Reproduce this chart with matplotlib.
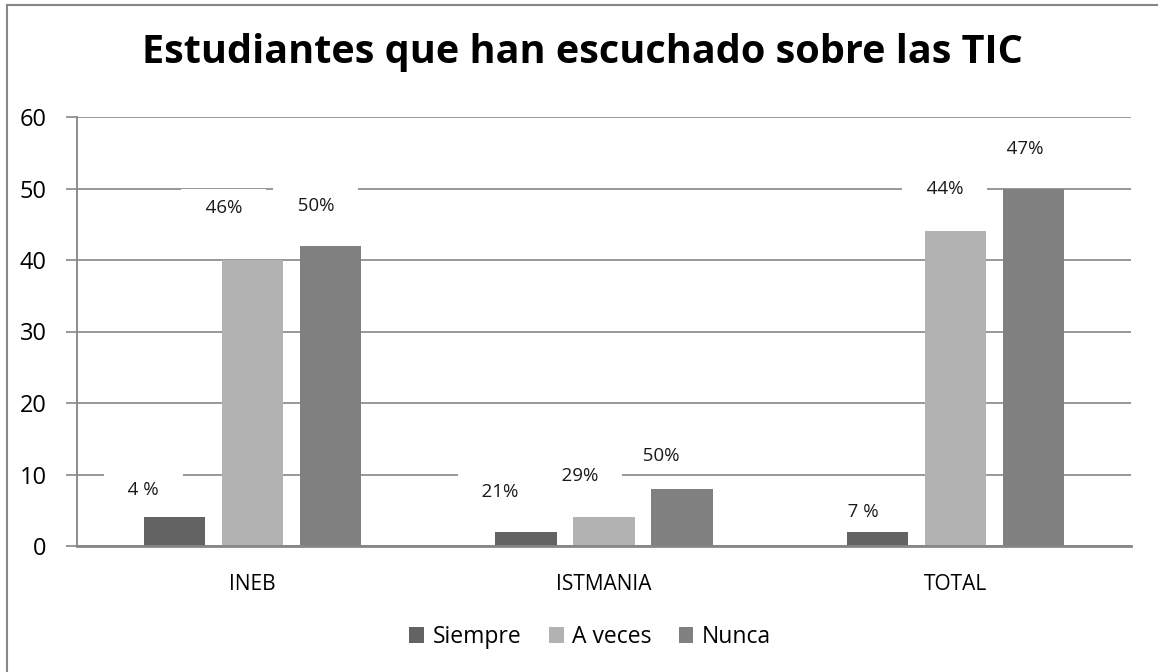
import matplotlib
matplotlib.use("Agg")
import matplotlib.pyplot as plt
from matplotlib.patches import Patch
from matplotlib.lines import Line2D
import numpy as np

# ---- data ----
categories = ["INEB", "ISTMANIA", "TOTAL"]
series_names = ["Siempre", "A veces", "Nunca"]
siempre = [4, 2, 2]
a_veces = [40, 4, 44]
nunca = [42, 8, 50]
label_texts = [
    ["4 %", "46%", "50%"],
    ["21%", "29%", "50%"],
    ["7 %", "44%", "47%"],
]
y_ticks = [0, 10, 20, 30, 40, 50, 60]
title = "Estudiantes que han escuchado sobre las TIC"

# label placement (category offset from bar centre, y in data units)
label_dx = [
    [-0.09, -0.082, -0.042],
    [-0.074, -0.068, -0.06],
    [-0.04, -0.03, -0.023],
]
label_y = [
    [7.8, 47.3, 47.6],
    [7.55, 9.8, 12.6],
    [4.75, 49.9, 55.5],
]

colors = ["#636363", "#b2b2b2", "#808080"]
grid_color = "#868686"

plt.rcParams["font.family"] = ["Open Sans", "DejaVu Sans"]

fig = plt.figure(figsize=(11.58, 6.72), dpi=100)
fig.patch.set_facecolor("white")
ax = fig.add_axes([77 / 1158, 1 - 546 / 672, (1131 - 77) / 1158, (546 - 117) / 672])

x = np.arange(len(categories))
step = 0.222
width = 0.174
all_series = [siempre, a_veces, nunca]
for j, (vals, name, c) in enumerate(zip(all_series, series_names, colors)):
    ax.bar(x + (j - 1) * step, vals, width=width, color=c, label=name, zorder=2)

for i in range(len(categories)):
    for j in range(3):
        ax.text(x[i] + (j - 1) * step + label_dx[i][j], label_y[i][j],
                "   " + label_texts[i][j] + "   ",
                ha="center", va="center", fontsize=13.5, color="#1a1a1a", zorder=1.5,
                bbox=dict(facecolor="white", edgecolor="none", boxstyle="square,pad=0.5"))

ax.set_xlim(-0.5, 2.5)
ax.set_ylim(0, 60)
ax.set_yticks(y_ticks)
ax.set_xticks(x)
ax.set_xticklabels(categories)
ax.yaxis.grid(True, color=grid_color, linewidth=1.2)
ax.set_axisbelow(True)
for s in ["top", "right"]:
    ax.spines[s].set_visible(False)
ax.spines["left"].set_color(grid_color)
ax.spines["left"].set_linewidth(1.3)
ax.spines["bottom"].set_color(grid_color)
ax.spines["bottom"].set_linewidth(2)
ax.spines["bottom"].set_zorder(3)
ax.tick_params(axis="y", direction="out", length=8, width=1.2, color=grid_color,
               labelsize=17, pad=14, labelcolor="#000000")
ax.tick_params(axis="x", length=0, labelsize=15, pad=20, labelcolor="#000000")

fig.text(0.503, 1 - 63 / 672, title, ha="center", va="baseline",
         fontsize=28.5, fontweight="bold", color="#000000")

handles = [Patch(facecolor=c, edgecolor="none") for c in colors]
fig.legend(handles, series_names, loc="center", bbox_to_anchor=(590 / 1158, 1 - 637 / 672),
           ncol=3, frameon=False, fontsize=16.5, handlelength=0.65, handleheight=0.65,
           handletextpad=0.35, columnspacing=1.2)

# outer frame (left and top edges visible)
fig.add_artist(Line2D([7.5 / 1158, 7.5 / 1158], [0, 1 - 5 / 672], color=grid_color,
                      linewidth=1.5, transform=fig.transFigure))
fig.add_artist(Line2D([7.5 / 1158, 1], [1 - 5 / 672, 1 - 5 / 672], color=grid_color,
                      linewidth=1.5, transform=fig.transFigure))

fig.savefig("out.png", dpi=100, facecolor="white")
